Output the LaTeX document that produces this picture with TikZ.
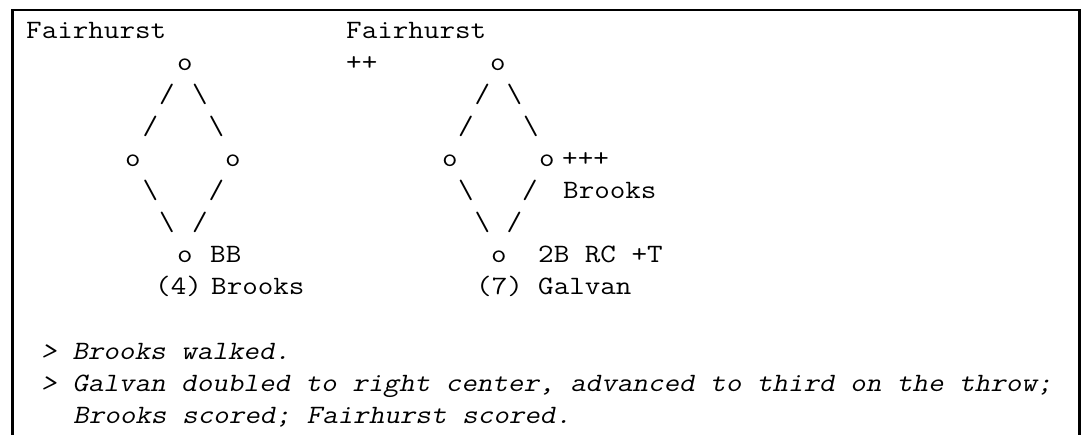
\documentclass[tikz,border=0pt]{standalone}
\usepackage{fontspec}
\usepackage{tikz}
\newfontfamily\courier[FakeStretch=1.14]{Latin Modern Mono}
\newfontfamily\courierslant[FakeStretch=1.14,FakeSlant=0.21]{Latin Modern Mono}
\newcommand{\mono}{\courier\fontsize{26.5}{32}\selectfont}
\newcommand{\monoit}{\courierslant\fontsize{26.5}{32}\selectfont}
\newcommand{\bs}{\textbackslash}

\begin{document}
\begin{tikzpicture}[
  x=1pt,y=-1pt,
  glyph/.style={font=\mono,inner sep=0pt,anchor=base},
  word/.style={font=\mono,inner sep=0pt,anchor=base west},
  note/.style={font=\monoit,inner sep=0pt,anchor=base west},
  frame/.style={draw=black,line width=2.5pt}
]
\useasboundingbox (0,0) rectangle (1086,434);
% frame, open at the bottom
\coordinate (fbl) at (12.3,436);
\coordinate (ftl) at (12.3,9.8);
\coordinate (ftr) at (1079.3,9.8);
\coordinate (fbr) at (1079.3,436);
\draw[frame] (fbl) -- (ftl) -- (ftr) -- (fbr);

% left diamond
\node[word] (fairA) at (26,38) {Fairhurst};
\node[glyph] (topA) at (185,70.1) {o};
\node[glyph] (ulA1) at (167,102.2) {/};
\node[glyph] (urA1) at (200,102.2) {\bs};
\node[glyph] (ulA2) at (150.5,134.3) {/};
\node[glyph] (urA2) at (216.5,134.3) {\bs};
\node[glyph] (thirdA) at (133,166.4) {o};
\node[glyph] (firstA) at (233,166.4) {o};
\node[glyph] (llA2) at (150.5,198.5) {\bs};
\node[glyph] (lrA2) at (216.5,198.5) {/};
\node[glyph] (llA1) at (167,230.6) {\bs};
\node[glyph] (lrA1) at (200,230.6) {/};
\node[glyph] (homeA) at (185,262.7) {o};
\node[word] (playA) at (210,262.7) {BB};
\node[word] (numA) at (155,294.8) {(4)};
\node[word] (batA) at (211,294.8) {Brooks};

% right diamond
\node[word] (fairB) at (346,38) {Fairhurst};
\node[word] (runsB) at (346,70.1) {++};
\node[glyph] (topB) at (498,70.1) {o};
\node[glyph] (ulB1) at (482.5,102.2) {/};
\node[glyph] (urB1) at (514.5,102.2) {\bs};
\node[glyph] (ulB2) at (466,134.3) {/};
\node[glyph] (urB2) at (531,134.3) {\bs};
\node[glyph] (thirdB) at (450,166.4) {o};
\node[glyph] (firstB) at (547,166.4) {o};
\node[word] (scoreB) at (562,166.4) {+++};
\node[glyph] (llB2) at (466,198.5) {\bs};
\node[glyph] (lrB2) at (530,198.5) {/};
\node[word] (runB) at (563,198.5) {Brooks};
\node[glyph] (llB1) at (482.5,230.6) {\bs};
\node[glyph] (lrB1) at (514.5,230.6) {/};
\node[glyph] (homeB) at (499,262.7) {o};
\node[word] (playB) at (538,262.7) {2B RC +T};
\node[word] (numB) at (476,294.8) {(7)};
\node[word] (batB) at (538,294.8) {Galvan};

% play notes
\node[note] (noteA) at (41,359) {> Brooks walked.};
\node[note] (noteB) at (41,391.1) {> Galvan doubled to right center, advanced to third on the throw;};
\node[note] (noteC) at (73,423.2) {Brooks scored; Fairhurst scored.};
\end{tikzpicture}
\end{document}
